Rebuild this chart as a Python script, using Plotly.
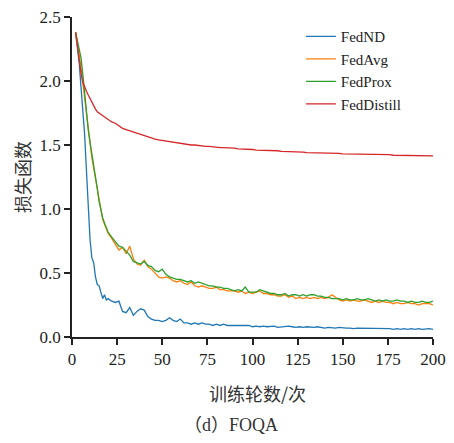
import plotly.graph_objects as go

# epochs: every round up to 20, then every second round
epochs = list(range(2, 21)) + list(range(22, 201, 2))

fednd = [2.38, 2.28, 2.14, 1.95, 1.76, 1.58, 1.30, 1.02, 0.76, 0.62, 0.58, 0.47, 0.41, 0.40, 0.35, 0.30, 0.33, 0.29, 0.30,
         0.28, 0.27, 0.28, 0.20, 0.19, 0.23, 0.17, 0.20, 0.22, 0.21, 0.16, 0.14, 0.13, 0.13, 0.12, 0.13, 0.15, 0.13, 0.12, 0.14,
         0.11, 0.11, 0.10, 0.11, 0.10, 0.11, 0.10, 0.10, 0.09, 0.10, 0.09, 0.10, 0.09, 0.09, 0.09, 0.09, 0.09, 0.085, 0.09, 0.08,
         0.085, 0.08, 0.085, 0.08, 0.08, 0.085, 0.075, 0.08, 0.08, 0.085, 0.08, 0.075, 0.08, 0.075, 0.08, 0.075, 0.075, 0.08, 0.075, 0.07,
         0.075, 0.07, 0.07, 0.075, 0.07, 0.07, 0.07, 0.065, 0.07, 0.07, 0.065, 0.07, 0.065, 0.07, 0.065, 0.065, 0.07, 0.065, 0.06, 0.065,
         0.06, 0.065, 0.06, 0.065, 0.06, 0.065, 0.06, 0.065, 0.065, 0.06]

fedavg = [2.38, 2.30, 2.20, 2.10, 1.98, 1.85, 1.72, 1.60, 1.50, 1.40, 1.32, 1.24, 1.15, 1.05, 0.97, 0.92, 0.88, 0.84, 0.81,
          0.77, 0.72, 0.68, 0.70, 0.65, 0.71, 0.61, 0.57, 0.56, 0.60, 0.55, 0.53, 0.50, 0.47, 0.46, 0.47, 0.46, 0.44, 0.43, 0.44,
          0.42, 0.41, 0.43, 0.40, 0.39, 0.40, 0.39, 0.38, 0.38, 0.39, 0.37, 0.37, 0.36, 0.36, 0.36, 0.35, 0.36, 0.34, 0.35, 0.34,
          0.35, 0.36, 0.34, 0.34, 0.33, 0.33, 0.32, 0.32, 0.33, 0.31, 0.32, 0.30, 0.31, 0.30, 0.31, 0.30, 0.31, 0.30, 0.31, 0.30,
          0.31, 0.33, 0.31, 0.29, 0.28, 0.29, 0.28, 0.29, 0.28, 0.28, 0.29, 0.28, 0.27, 0.28, 0.27, 0.28, 0.27, 0.27, 0.26, 0.27,
          0.26, 0.26, 0.27, 0.26, 0.26, 0.25, 0.26, 0.26, 0.26, 0.25]

fedprox = [2.38, 2.32, 2.25, 2.18, 2.05, 1.90, 1.76, 1.62, 1.52, 1.43, 1.36, 1.28, 1.16, 1.06, 0.98, 0.93, 0.89, 0.85, 0.82,
           0.78, 0.74, 0.71, 0.70, 0.67, 0.64, 0.59, 0.58, 0.57, 0.59, 0.56, 0.55, 0.52, 0.51, 0.53, 0.49, 0.47, 0.46, 0.45, 0.45,
           0.44, 0.43, 0.44, 0.42, 0.43, 0.42, 0.41, 0.40, 0.40, 0.39, 0.39, 0.38, 0.38, 0.37, 0.36, 0.37, 0.36, 0.39, 0.35, 0.35,
           0.35, 0.37, 0.36, 0.35, 0.34, 0.34, 0.33, 0.33, 0.34, 0.32, 0.33, 0.33, 0.32, 0.33, 0.32, 0.33, 0.33, 0.32, 0.32, 0.31,
           0.31, 0.30, 0.30, 0.30, 0.29, 0.30, 0.29, 0.29, 0.30, 0.29, 0.29, 0.30, 0.29, 0.28, 0.29, 0.28, 0.29, 0.28, 0.28, 0.29,
           0.28, 0.28, 0.27, 0.28, 0.27, 0.27, 0.28, 0.27, 0.27, 0.28]

feddistill = [2.38, 2.27, 2.15, 2.06, 1.99, 1.95, 1.92, 1.89, 1.86, 1.83, 1.80, 1.78, 1.76, 1.75, 1.74, 1.73, 1.72, 1.71, 1.70,
              1.68, 1.67, 1.65, 1.63, 1.62, 1.61, 1.60, 1.59, 1.585, 1.575, 1.565, 1.555, 1.545, 1.54, 1.535, 1.53, 1.525, 1.52, 1.515, 1.51,
              1.51, 1.505, 1.50, 1.50, 1.495, 1.49, 1.49, 1.49, 1.485, 1.485, 1.48, 1.48, 1.48, 1.475, 1.475, 1.47, 1.47, 1.47, 1.465, 1.465,
              1.46, 1.46, 1.46, 1.46, 1.455, 1.455, 1.455, 1.45, 1.45, 1.45, 1.45, 1.445, 1.445, 1.445, 1.44, 1.44, 1.44, 1.44, 1.44, 1.435,
              1.435, 1.435, 1.435, 1.435, 1.43, 1.43, 1.43, 1.43, 1.43, 1.43, 1.43, 1.425, 1.425, 1.425, 1.425, 1.425, 1.425, 1.425, 1.42, 1.42,
              1.42, 1.42, 1.42, 1.42, 1.42, 1.42, 1.42, 1.415, 1.415, 1.415]

names = ["FedND", "FedAvg", "FedProx", "FedDistill"]
colors = ["#1f77b4", "#ff7f0e", "#2ca02c", "#d62728"]
series = [fednd, fedavg, fedprox, feddistill]

for s in series:
    assert len(s) == len(epochs), len(s)

serif = "Liberation Serif"
cjk = "Noto Sans CJK SC"

fig = go.Figure()
for name, col, ys in zip(names, colors, series):
    fig.add_trace(go.Scatter(x=epochs, y=ys, mode="lines", name=name,
                             line=dict(color=col, width=1.3)))

axis_style = dict(showline=True, linecolor="#222", linewidth=1.5, ticks="outside",
                  tickcolor="#222", tickwidth=1.5, ticklen=6, showgrid=False, zeroline=False,
                  automargin=False, ticklabeloverflow="allow",
                  tickfont=dict(family=serif, size=17, color="#222"))

fig.update_xaxes(range=[0, 200], tickvals=[0, 25, 50, 75, 100, 125, 150, 175, 200], **axis_style)
fig.update_yaxes(range=[0, 2.5], tickvals=[0, 0.5, 1.0, 1.5, 2.0, 2.5], tickformat=".1f", **axis_style)

# page body has an 8px margin, so the figure is 8px smaller and shifted
fig.update_layout(
    width=446, height=435,
    margin=dict(l=64, r=21, t=9, b=106),
    plot_bgcolor="white", paper_bgcolor="white",
    font=dict(family=serif),
    legend=dict(x=0.634, y=0.99, xanchor="left", yanchor="top",
                font=dict(family=serif, size=15, color="#222"),
                bgcolor="rgba(0,0,0,0)", tracegroupgap=0, itemwidth=30),
    annotations=[
        dict(text="训练轮数/次", xref="paper", yref="paper", x=0.515, y=-0.1745,
             xanchor="center", yanchor="middle",
             showarrow=False, font=dict(family=cjk, size=18, color="#333")),
        dict(text="（d）FOQA", xref="paper", yref="paper", x=0.44, y=-0.274,
             xanchor="center", yanchor="middle",
             showarrow=False, font=dict(family=serif + ", " + cjk, size=18, color="#333")),
        dict(text="损失函数", xref="paper", yref="paper", x=-0.1385, y=0.5, textangle=-90,
             xanchor="center", yanchor="middle",
             showarrow=False, font=dict(family=cjk, size=18, color="#333")),
    ],
)

fig.write_html("out.html")
